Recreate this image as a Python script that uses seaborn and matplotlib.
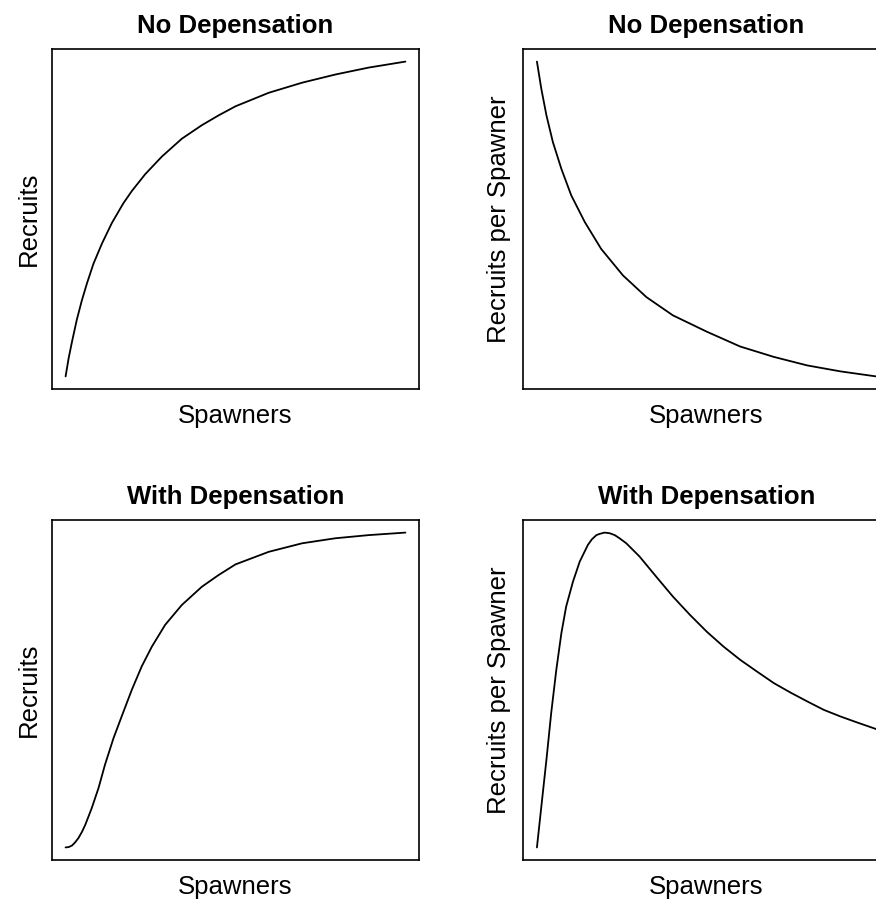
import matplotlib
matplotlib.use("Agg")
import matplotlib.pyplot as plt
import seaborn as sns

# Spawner abundance (0-100 scale) and responses (0-100 scale) for each panel

# Beverton-Holt style recruitment, no depensation
spawners_bh = [0, 0.9, 1.9, 3.3, 4.8, 6.3, 8.2, 10.7, 13.6, 17.0, 19.5, 23.4, 28.3,
               34.2, 40.1, 45.0, 50.0, 59.8, 69.6, 79.4, 89.2, 100]
recruits_bh = [0, 5.8, 11.1, 18.0, 24.2, 29.6, 35.8, 42.2, 48.7, 55.0, 58.9, 64.2, 69.8,
               75.5, 79.8, 82.9, 85.8, 90.1, 93.3, 95.9, 98.1, 100]

# Recruits per spawner, no depensation
spawners_rps = [0.1, 1.4, 2.9, 4.8, 7.3, 10.2, 14.2, 19.0, 25.4, 32.3, 40.1, 50.1,
                59.9, 69.8, 79.6, 89.4, 99.9]
rps_bh = [100, 91.3, 82.9, 74.4, 65.9, 57.5, 49.0, 40.5, 32.1, 25.2, 19.4, 14.2,
          9.5, 6.2, 3.5, 1.6, 0]

# Recruitment with depensation (sigmoid)
spawners_dep = [0, 0.9, 1.9, 2.8, 3.8, 4.8, 5.8, 7.7, 9.7, 11.6, 14.1, 16.5, 19.5,
                22.4, 25.4, 29.3, 34.2, 40.1, 45.0, 50.0, 59.8, 69.6, 79.4, 89.2, 100]
recruits_dep = [0, 0.1, 0.6, 1.6, 3.0, 4.9, 7.2, 12.5, 18.9, 26.3, 34.7, 41.6, 50.1,
                57.5, 63.8, 70.7, 77.0, 82.8, 86.5, 89.9, 93.9, 96.6, 98.2, 99.2, 100]

# Recruits per spawner with depensation
spawners_rps_dep = [0.1, 1.4, 2.9, 4.3, 5.8, 7.3, 8.7, 10.7, 12.7, 15.1, 16.3, 17.6,
                    18.6, 20.0, 21.5, 23.0, 24.4, 26.4, 30.3, 35.2, 40.1, 45.1, 50.1,
                    55.0, 59.9, 64.8, 69.8, 74.7, 79.6, 84.5, 89.4, 94.3, 99.9]
rps_dep = [0, 13.0, 27.9, 42.7, 56.4, 68.1, 76.5, 84.4, 90.8, 96.1, 97.9, 99.2,
           99.6, 100, 99.8, 99.2, 98.2, 96.6, 92.4, 86.0, 79.7, 73.9, 68.5,
           63.8, 59.6, 55.9, 52.2, 49.2, 46.4, 43.7, 41.6, 39.7, 37.6]

titles = ["No Depensation", "No Depensation", "With Depensation", "With Depensation"]
ylabels = ["Recruits", "Recruits per Spawner", "Recruits", "Recruits per Spawner"]
xlabel = "Spawners"

sns.set_theme(style="white")
plt.rcParams["font.family"] = ["Liberation Sans", "DejaVu Sans"]
plt.rcParams["text.color"] = "black"
plt.rcParams["axes.labelcolor"] = "black"

W, H = 876, 899
fig = plt.figure(figsize=(W / 100, H / 100), dpi=100)
fig.patch.set_facecolor("white")

# axes boxes in pixels: (left, top, right, bottom)
boxes = [(52, 49, 419, 389), (523, 49, 890, 389),
         (52, 520, 419, 860), (523, 520, 890, 860)]
series = [(spawners_bh, recruits_bh), (spawners_rps, rps_bh),
          (spawners_dep, recruits_dep), (spawners_rps_dep, rps_dep)]

FS = 18.5
for (l, t, r, b), (xs, ys), title, ylab in zip(boxes, series, titles, ylabels):
    ax = fig.add_axes([l / W, 1 - b / H, (r - l) / W, (b - t) / H])
    sns.lineplot(x=xs, y=ys, ax=ax, color="black", linewidth=1.3,
                 sort=False, estimator=None)
    ax.set_xlim(-4, 104)
    ax.set_ylim(-4, 104)
    ax.set_xticks([])
    ax.set_yticks([])
    for sp in ax.spines.values():
        sp.set_visible(True)
        sp.set_color("black")
        sp.set_linewidth(1.2)
    ax.set_title(title, fontsize=FS, fontweight="bold", y=1.047, pad=0,
                 color="black")
    ax.set_xlabel(xlabel, fontsize=FS, color="black")
    ax.xaxis.label.set_va("baseline")
    ax.xaxis.set_label_coords(0.5, -0.1)
    ax.set_ylabel(ylab, fontsize=FS, color="black")
    ax.yaxis.label.set_va("baseline")
    ax.yaxis.set_label_coords(-0.045, 0.5)

fig.savefig("out.png", dpi=100, facecolor="white")
